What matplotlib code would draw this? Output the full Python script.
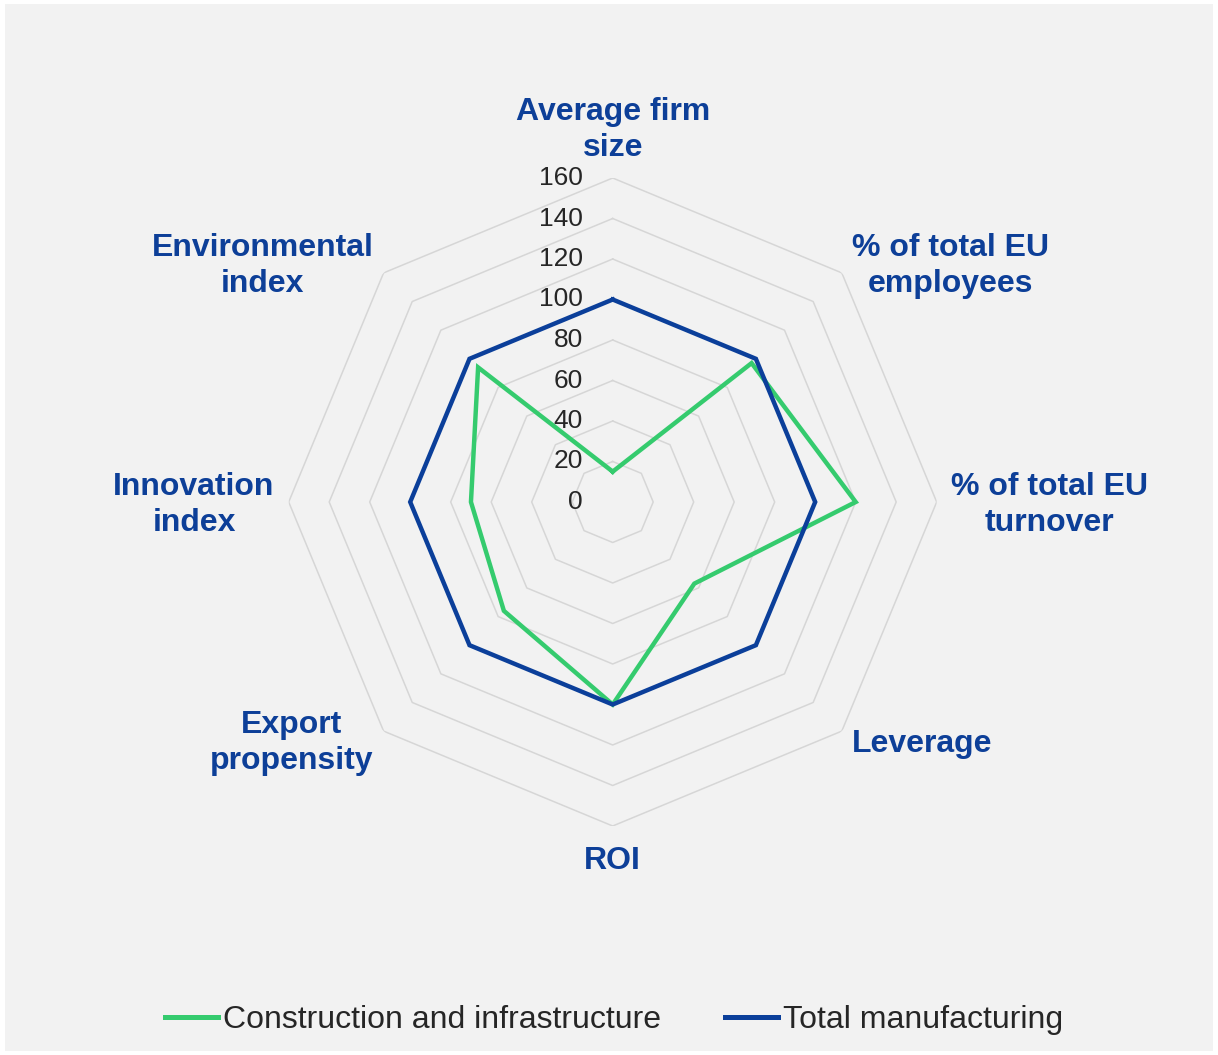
import numpy as np
import matplotlib
matplotlib.use("Agg")
import matplotlib.pyplot as plt
from matplotlib.patches import Rectangle
from matplotlib.lines import Line2D
import matplotlib.transforms as mtransforms

plt.rcParams['font.family'] = ['Liberation Sans', 'DejaVu Sans']

categories = ["Average firm\nsize", "% of total EU\nemployees", "% of total EU\nturnover",
              "Leverage", "ROI", "Export\npropensity", "Innovation\nindex", "Environmental\nindex"]
construction = [15, 97, 120, 57, 100, 76, 70, 94]
manufacturing = [100, 100, 100, 100, 100, 100, 100, 100]
series_names = ["Construction and infrastructure", "Total manufacturing"]
rticks = [0, 20, 40, 60, 80, 100, 120, 140, 160]

GREEN = '#35cb6e'
BLUE = '#0b3f9a'
LABEL = '#0d3f98'
GRID = '#d6d6d6'

W, H = 1218, 1055
fig = plt.figure(figsize=(W / 100, H / 100), dpi=100, facecolor='white')
fig.patches.append(Rectangle((5 / W, 4 / H), 1208 / W, 1047 / H, transform=fig.transFigure,
                             facecolor='#f2f2f2', edgecolor='none', zorder=-10))

cx, cy, R = 612.7, 502.0, 324.0
ax = fig.add_axes([(cx - R) / W, (H - cy - R) / H, 2 * R / W, 2 * R / H], projection='polar')
ax.set_theta_zero_location('N')
ax.set_theta_direction(-1)
ax.patch.set_visible(False)
ax.spines['polar'].set_visible(False)
ax.grid(False)
ax.set_xticks([])
ax.set_yticks([])

n = len(categories)
theta = np.arange(n) * 2 * np.pi / n
theta_c = np.append(theta, theta[0])

for r in rticks[1:]:
    ax.plot(theta_c, [r] * (n + 1), color=GRID, lw=1.1, zorder=1)

ax.plot(theta_c, construction + construction[:1], color=GREEN, lw=3.2, zorder=3,
        solid_joinstyle='miter')
ax.plot(theta_c, manufacturing + manufacturing[:1], color=BLUE, lw=3.2, zorder=4,
        solid_joinstyle='miter')
ax.set_ylim(0, 160)

# radial tick labels
off = mtransforms.offset_copy(ax.transData, fig=fig, x=-30, y=0, units='dots')
for r in rticks:
    ax.text(0, r, str(r), transform=off, ha='right', va='center', fontsize=19,
            color='#262626', zorder=5)

# category labels
offsets = [(0, 15, 'center', 'bottom'), (10, 7, 'left', 'center'), (14, -3, 'left', 'center'),
           (10, -13, 'left', 'center'), (0, -20, 'center', 'top'), (-10, -12, 'right', 'center'),
           (-14, -3, 'right', 'center'), (-10, 7, 'right', 'center')]
for t, lab, (dx, dy, ha, va) in zip(theta, categories, offsets):
    ax.annotate(lab, xy=(t, 160), xytext=(dx, dy), textcoords='offset pixels', ha=ha, va=va,
                multialignment='center', fontsize=23, fontweight='bold', color=LABEL,
                linespacing=1.27, annotation_clip=False)

handles = [Line2D([], [], color=GREEN, lw=3.6), Line2D([], [], color=BLUE, lw=3.6)]
fig.legend(handles, series_names, loc='center', bbox_to_anchor=(614 / W, 1 - 1020 / H),
           ncol=2, frameon=False, fontsize=23, handlelength=1.66, handletextpad=0.16,
           columnspacing=2.0, labelcolor='#262626')

fig.savefig('out.png', dpi=100, facecolor=fig.get_facecolor())
